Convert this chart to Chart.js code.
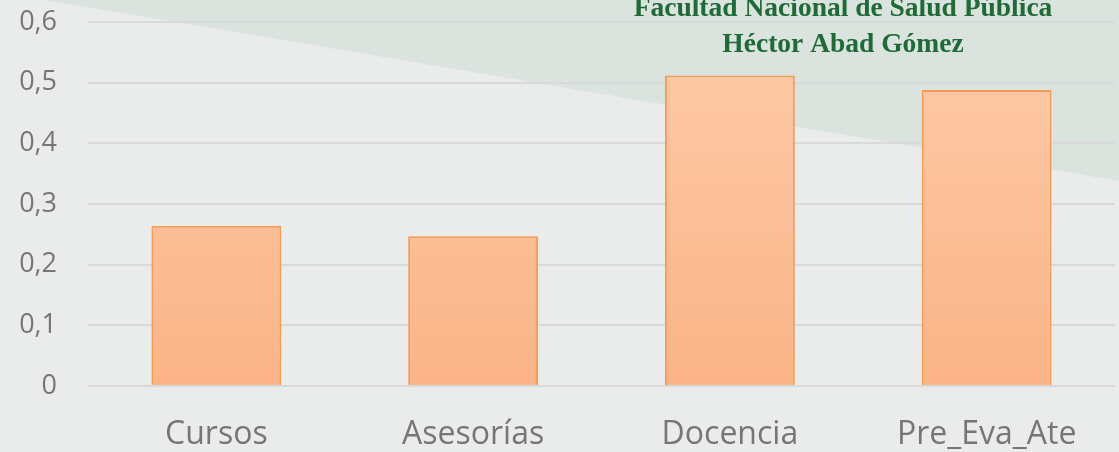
<!DOCTYPE html>
<html>
<head>
<meta charset="utf-8">
<script src="https://cdn.jsdelivr.net/npm/chart.js@4/dist/chart.umd.min.js"></script>
<style>
html,body{margin:0;padding:0;background:#eaeceb;}
#wrap{width:1119px;height:452px;position:relative;}
</style>
</head>
<body>
<div id="wrap"><canvas id="c" width="1119" height="452"></canvas></div>
<script>
const categories = ['Cursos', 'Asesorías', 'Docencia', 'Pre_Eva_Ate'];
const values = [0.264, 0.247, 0.512, 0.488];
const yTickLabels = ['0', '0,1', '0,2', '0,3', '0,4', '0,5', '0,6'];
const titleLines = ['Facultad Nacional de Salud Pública', 'Héctor Abad Gómez'];

const bgPlugin = {
  id: 'bg',
  beforeDraw(chart) {
    const ctx = chart.ctx, w = chart.width, h = chart.height;
    ctx.save();
    ctx.fillStyle = '#eaeceb';
    ctx.fillRect(0, 0, w, h);
    ctx.beginPath();
    ctx.moveTo(45, 0);
    ctx.lineTo(w, 0);
    ctx.lineTo(w, 181);
    ctx.closePath();
    ctx.fillStyle = '#dbe3de';
    ctx.fill();
    ctx.restore();
  },
  afterDraw(chart) {
    const ctx = chart.ctx;
    ctx.save();
    ctx.fillStyle = '#1f6a36';
    ctx.font = 'bold 27.5px "Liberation Serif"';
    ctx.textAlign = 'center';
    ctx.textBaseline = 'alphabetic';
    ctx.fillText(titleLines[0], 843, 16);
    ctx.fillText(titleLines[1], 843, 52);
    ctx.restore();
  }
};

const ctx = document.getElementById('c').getContext('2d');
const grad = ctx.createLinearGradient(0, 22, 0, 386);
grad.addColorStop(0, '#fdcba9');
grad.addColorStop(1, '#fbb487');

new Chart(ctx, {
  type: 'bar',
  data: {
    labels: categories,
    datasets: [{
      data: values,
      backgroundColor: grad,
      borderColor: '#f79a52',
      borderWidth: 2,
      categoryPercentage: 1,
      barPercentage: 0.506
    }]
  },
  options: {
    responsive: false,
    animation: false,
    layout: { padding: { top: 22, left: 0, right: 4, bottom: 0 } },
    plugins: { legend: { display: false }, tooltip: { enabled: false } },
    scales: {
      x: {
        afterFit(s) { s.height = 66; s.paddingLeft = 0; s.paddingRight = 0; },
        grid: { display: false, drawTicks: false },
        border: { display: false },
        ticks: { color: '#767676', font: { family: 'Open Sans', size: 32 }, padding: 30 }
      },
      y: {
        min: 0, max: 0.6,
        afterFit(s) { s.width = 88; s.paddingTop = 0; s.paddingBottom = 0; },
        grid: { color: '#d9d9d9', lineWidth: 2, drawTicks: false },
        border: { display: false },
        ticks: {
          stepSize: 0.1,
          color: '#767676',
          font: { family: 'Open Sans', size: 27 },
          padding: 31,
          callback: (v, i) => yTickLabels[i]
        }
      }
    }
  },
  plugins: [bgPlugin]
});
</script>
</body>
</html>
